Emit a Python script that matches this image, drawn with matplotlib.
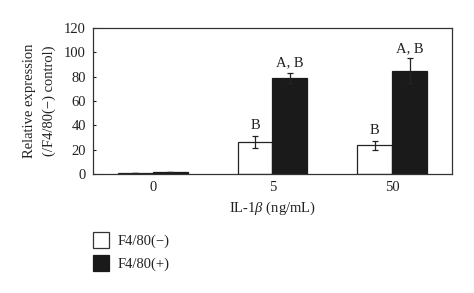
import matplotlib
matplotlib.use("Agg")
import matplotlib.pyplot as plt
import numpy as np
from matplotlib.patches import Patch

categories = ["0", "5", "50"]
neg_vals = [1.0, 26.5, 23.5]
neg_err = [0.0, 5.0, 3.5]
pos_vals = [1.5, 79.0, 85.0]
pos_err = [0.0, 4.0, 10.0]
neg_labels = ["", "B", "B"]
pos_labels = ["", "A, B", "A, B"]
yticks = [0, 20, 40, 60, 80, 100, 120]

plt.rcParams['font.family'] = ['Liberation Serif', 'DejaVu Serif']
plt.rcParams['mathtext.fontset'] = 'custom'
plt.rcParams['mathtext.it'] = 'Liberation Serif:italic'
plt.rcParams['mathtext.rm'] = 'Liberation Serif'
fs = 10.5
tc = '#222222'
fig = plt.figure(figsize=(4.74, 2.93), dpi=100)
ax = fig.add_axes([93/474, 1-174/293, 359/474, 146/293])

x = np.arange(len(categories))
w = 0.29
ax.bar(x - w/2, neg_vals, w, color='white', edgecolor='#222222', linewidth=0.9,
       yerr=neg_err, error_kw=dict(ecolor='#222222', elinewidth=0.9, capsize=2.5, capthick=0.9))
ax.bar(x + w/2, pos_vals, w, color='#1a1a1a', edgecolor='#1a1a1a', linewidth=0.9,
       yerr=pos_err, error_kw=dict(ecolor='#222222', elinewidth=0.9, capsize=2.5, capthick=0.9))

for i in range(len(categories)):
    if neg_labels[i]:
        ax.text(x[i] - w/2, neg_vals[i] + neg_err[i] + 3, neg_labels[i], ha='center', va='bottom', fontsize=fs, color=tc)
    if pos_labels[i]:
        ax.text(x[i] + w/2, pos_vals[i] + pos_err[i] + 3, pos_labels[i], ha='center', va='bottom', fontsize=fs, color=tc)

ax.set_xlim(-0.5, 2.5)
ax.set_ylim(0, 120)
ax.set_yticks(yticks)
ax.set_xticks(x)
ax.set_xticklabels(categories)
ax.tick_params(axis='y', direction='in', length=2.5, labelsize=fs, colors=tc, width=0.8, pad=5)
ax.tick_params(axis='x', length=0, labelsize=fs, colors=tc, pad=5)
for s in ax.spines.values():
    s.set_color('#333333')
    s.set_linewidth(0.9)
ax.set_ylabel("Relative expression\n(/F4/80(\u2212) control)", fontsize=fs, color=tc, labelpad=6, linespacing=1.6)
ax.set_xlabel("IL-1$\\it{\\beta}$ (ng/mL)", fontsize=fs, color=tc, labelpad=4)

handles = [Patch(facecolor='white', edgecolor='#333333', linewidth=0.9, label="F4/80(\u2212)"),
           Patch(facecolor='#1a1a1a', edgecolor='#1a1a1a', linewidth=0.9, label="F4/80(+)")]
fig.legend(handles=handles, loc='upper left', bbox_to_anchor=(80/474, 1-219/293), frameon=False,
           fontsize=fs, handlelength=1.1, handleheight=1.3, handletextpad=0.6, labelspacing=0.45,
           labelcolor=tc)

fig.savefig("out.png", dpi=100)
